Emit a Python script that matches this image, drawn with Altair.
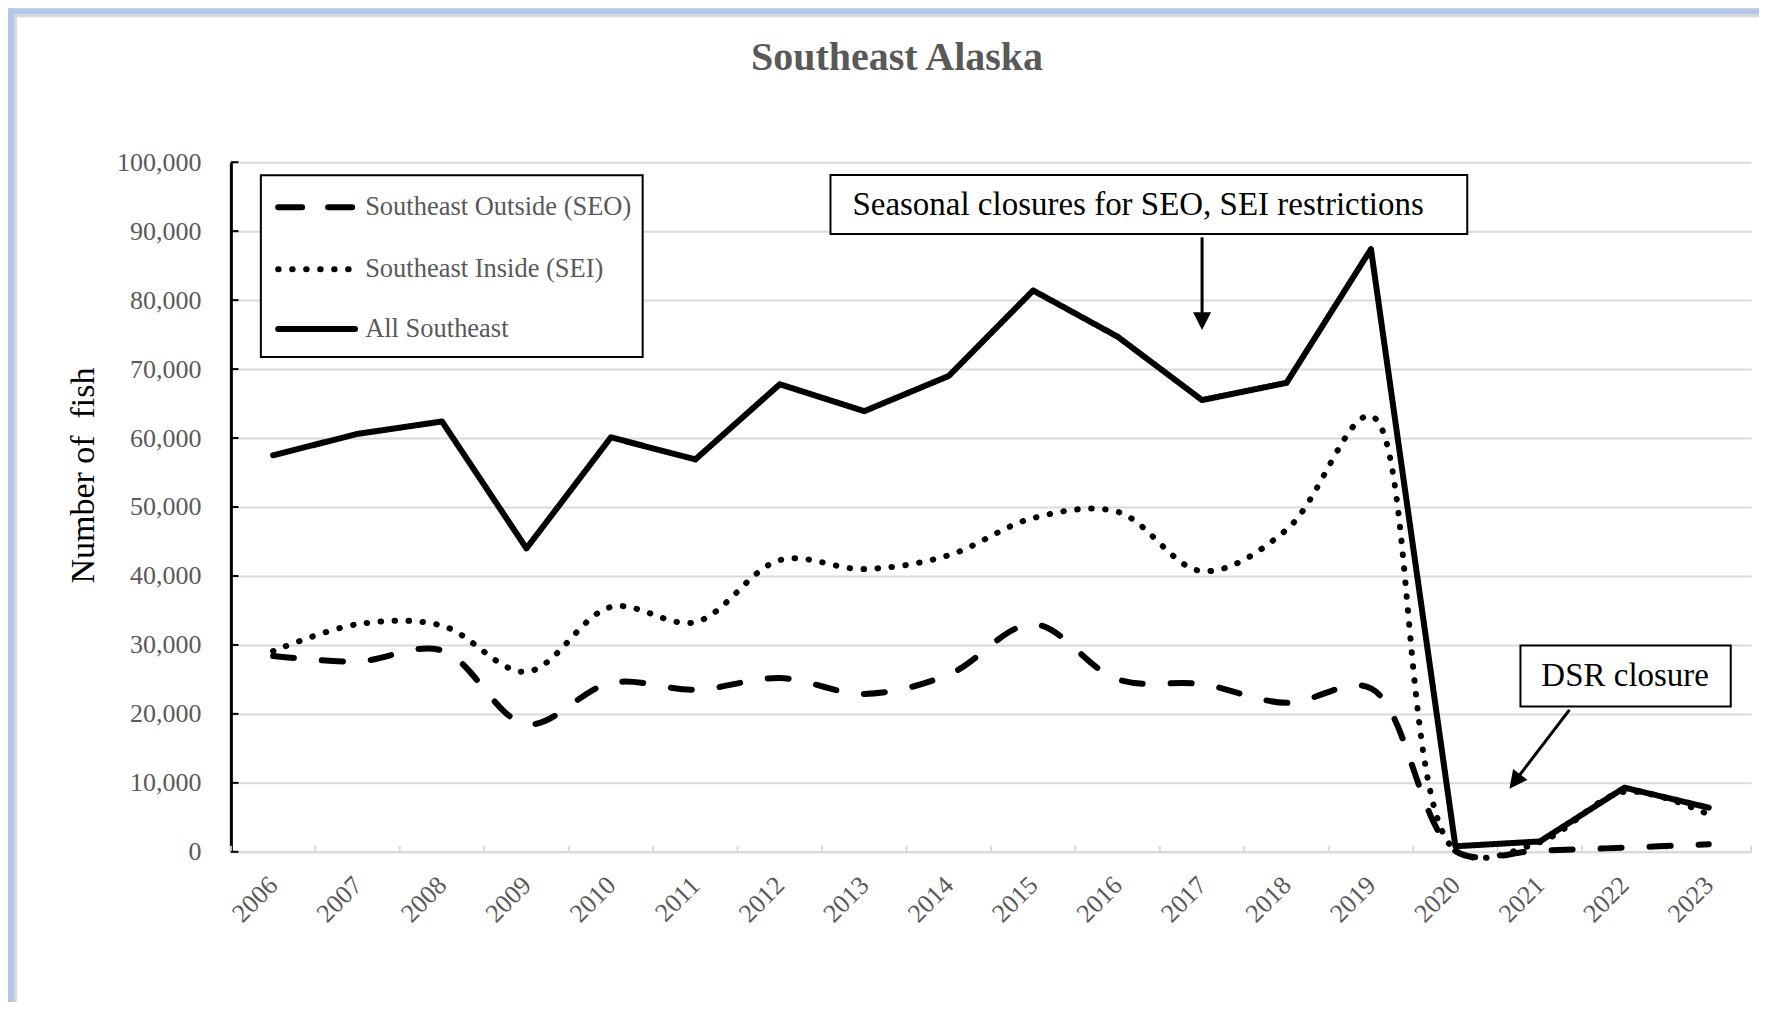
import altair as alt
import pandas as pd

# ---------------- data ----------------
years = list(range(2006, 2024))
seo = [28400, 27600, 29200, 18500, 24500, 23500, 25200, 22900, 25700,
       33000, 25000, 24300, 21600, 23700, 100, 200, 600, 1100]
sei = [29100, 33000, 32800, 26100, 35500, 33300, 42300, 41000, 43000,
       48400, 49300, 40700, 46700, 63200, 200, 1400, 8700, 5400]
all_se = [57500, 60600, 62400, 44000, 60100, 56900, 67800, 63900, 69000,
          81400, 74700, 65500, 68000, 87400, 800, 1500, 9300, 6400]

series_names = ["Southeast Outside (SEO)", "Southeast Inside (SEI)", "All Southeast"]
y_ticks = list(range(0, 100001, 10000))
x_boundaries = [2005.5 + i for i in range(19)]

FONT = "Liberation Serif"
GRAY = "#595959"
GRID = "#d9d9d9"

W, H = 1521, 690
XD = [2005.5, 2023.5]
YD = [0, 100000]

xs = alt.Scale(domain=XD, nice=False, zero=False)
ys = alt.Scale(domain=YD, nice=False)

df_seo = pd.DataFrame({"year": years, "value": seo})
df_sei = pd.DataFrame({"year": years, "value": sei})
df_all = pd.DataFrame({"year": years, "value": all_se})

x_axis = alt.Axis(values=years, format="d", labelAngle=-45, labelAlign="right",
                  labelBaseline="middle", labelPadding=29, grid=False, ticks=False,
                  domainColor=GRID, domainWidth=2, labelFont=FONT, labelFontSize=26,
                  labelColor=GRAY, title=None)
y_axis = alt.Axis(values=y_ticks, format=",d", grid=True, gridColor=GRID, gridWidth=2,
                  ticks=False, domainColor="black", domainWidth=3, labelPadding=30,
                  labelFont=FONT, labelFontSize=26, labelColor=GRAY,
                  title="Number of\u00a0 fish", titleFont=FONT, titleFontSize=34,
                  titleFontWeight="normal", titleColor="black", titleX=-147, titleY=313,
                  titleAlign="center", titleBaseline="middle", titleAngle=-90)

# ---------------- decorative frame (pixels) ----------------
frame = pd.DataFrame({
    "x0": [-217, -217, -223, -223],
    "x1": [W + 20, -214, W + 20, -217],
    "y0": [-148, -148, -154, -154],
    "y1": [-145, H + 200, -148, H + 200],
    "c": [GRID, GRID, "#b4c7e7", "#b4c7e7"],
})
frame_layer = alt.Chart(frame).mark_rect().encode(
    x=alt.X("x0:Q", scale=None), x2="x1:Q",
    y=alt.Y("y0:Q", scale=None), y2="y1:Q",
    color=alt.Color("c:N", scale=None),
)

# ---------------- axis ticks (inside) ----------------
xt = pd.DataFrame({"xb": x_boundaries})
xtick_layer = alt.Chart(xt).mark_rule(color=GRID, strokeWidth=2).encode(
    x=alt.X("xb:Q", scale=xs, axis=x_axis),
    y=alt.datum(0, scale=ys), y2=alt.datum(870),
)
yt = pd.DataFrame({"yv": y_ticks})
ytick_layer = alt.Chart(yt).mark_rule(color="black", strokeWidth=2).encode(
    y=alt.Y("yv:Q", scale=ys, axis=y_axis),
    x=alt.datum(2005.5, scale=xs), x2=alt.datum(2005.59),
)

# ---------------- series lines ----------------
def line(df, dash, interp, width=6):
    return alt.Chart(df).mark_line(color="black", strokeWidth=width, strokeDash=dash,
                                   strokeCap="round", strokeJoin="round",
                                   interpolate=interp).encode(
        x=alt.X("year:Q", scale=xs),
        y=alt.Y("value:Q", scale=ys),
    )

seo_layer = line(df_seo, [21, 28], "catmull-rom")
sei_layer = line(df_sei, [0.5, 13.5], "catmull-rom")
all_layer = line(df_all, [1, 0], "linear", 6)

# ---------------- legend (drawn in data space) ----------------
leg_box = pd.DataFrame({"x0": [2005.855], "x1": [2010.376], "y0": [71740], "y1": [98120]})
leg_box_layer = alt.Chart(leg_box).mark_rect(fill="white", stroke="black", strokeWidth=2).encode(
    x=alt.X("x0:Q", scale=xs), x2="x1:Q", y=alt.Y("y0:Q", scale=ys), y2="y1:Q")

leg_rows = [93480, 84490, 75800]
leg_dashes = [[24, 26], [0.5, 13.5], [1, 0]]
leg_layers = []
for name, yy, dash in zip(series_names, leg_rows, leg_dashes):
    d = pd.DataFrame({"x0": [2006.06], "x1": [2006.97], "y": [yy], "label": [name]})
    leg_layers.append(alt.Chart(d).mark_rule(color="black", strokeWidth=6, strokeDash=dash,
                                             strokeCap="round").encode(
        x=alt.X("x0:Q", scale=xs), x2="x1:Q", y=alt.Y("y:Q", scale=ys)))
    leg_layers.append(alt.Chart(d).mark_text(font=FONT, fontSize=26.5, color=GRAY, align="left",
                                             baseline="middle").encode(
        x=alt.datum(2007.09, scale=xs), y=alt.Y("y:Q", scale=ys), text="label:N"))

# ---------------- annotations ----------------
ann_boxes = pd.DataFrame({
    "x0": [2012.60, 2020.77], "x1": [2020.14, 2023.26],
    "y0": [89570, 21080], "y1": [98150, 29900],
})
ann_box_layer = alt.Chart(ann_boxes).mark_rect(fill="white", stroke="black", strokeWidth=2).encode(
    x=alt.X("x0:Q", scale=xs), x2="x1:Q", y=alt.Y("y0:Q", scale=ys), y2="y1:Q")

ann_text = pd.DataFrame({
    "x": [2012.86, 2022.01], "y": [93800, 25450],
    "t": ["Seasonal closures for SEO, SEI restrictions", "DSR closure"],
})
ann_text_layer1 = alt.Chart(ann_text.iloc[[0]]).mark_text(
    font=FONT, fontSize=33, color="black", align="left", baseline="middle").encode(
    x=alt.X("x:Q", scale=xs), y=alt.Y("y:Q", scale=ys), text="t:N")
ann_text_layer2 = alt.Chart(ann_text.iloc[[1]]).mark_text(
    font=FONT, fontSize=33, color="black", align="center", baseline="middle").encode(
    x=alt.X("x:Q", scale=xs), y=alt.Y("y:Q", scale=ys), text="t:N")

arrows = pd.DataFrame({
    "x0": [2017.0, 2021.35], "y0": [89100, 20580],
    "x1": [2017.0, 2020.70], "y1": [76950, 10170],
    "tx": [2017.0, 2020.64], "ty": [75650, 9130],
    "ang": [180, 217],
})
arrow_shaft = alt.Chart(arrows).mark_rule(color="black", strokeWidth=3).encode(
    x=alt.X("x0:Q", scale=xs), y=alt.Y("y0:Q", scale=ys), x2="x1:Q", y2="y1:Q")
arrow_head = alt.Chart(arrows).mark_point(
    shape="M0,0L-0.5,1L0.5,1Z", filled=True, color="black", opacity=1, size=1296,
    strokeWidth=0).encode(
    x=alt.X("tx:Q", scale=xs), y=alt.Y("ty:Q", scale=ys),
    angle=alt.Angle("ang:Q", scale=None))

chart = alt.layer(
    frame_layer, xtick_layer, ytick_layer,
    seo_layer, sei_layer, all_layer,
    leg_box_layer, *leg_layers,
    ann_box_layer, ann_text_layer1, ann_text_layer2, arrow_shaft, arrow_head,
).properties(
    width=W, height=H,
    title=alt.TitleParams("Southeast Alaska", font=FONT, fontSize=40, fontWeight="bold",
                          color=GRAY, anchor="middle", dx=-94, offset=-102,
                          baseline="alphabetic", frame="group"),
    autosize=alt.AutoSizeParams(type="none"),
    padding={"left": 223, "top": 154, "right": 8, "bottom": 150},
    background="white",
).configure_view(stroke=None)

chart.save("out.html", embed_options={"renderer": "svg", "actions": False})
